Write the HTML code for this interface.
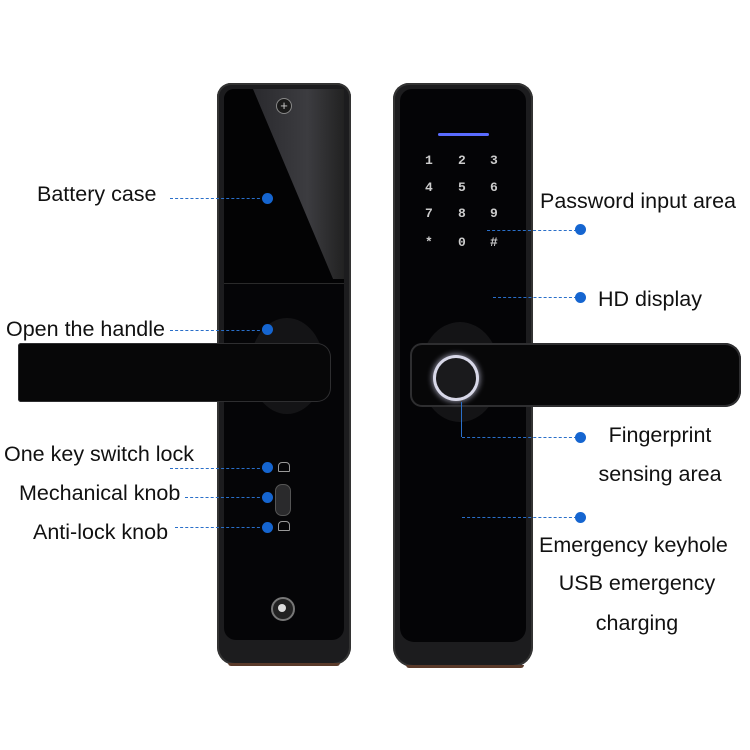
<!DOCTYPE html>
<html><head><style>
body{margin:0;width:750px;height:750px;background:#fff;position:relative;overflow:hidden;font-family:"Liberation Sans",sans-serif;color:#111}
.a{position:absolute}
.t{position:absolute;font-size:21.5px;white-space:nowrap;line-height:1}
.c{position:absolute;font-size:21.5px;white-space:nowrap;line-height:1;width:240px;text-align:center}
.d{position:absolute;width:11px;height:11px;border-radius:50%;background:#1565d0}
.l{position:absolute;height:0;border-top:1px dashed #2a6fc9}
.k{position:absolute;color:#ccc;font-size:13px;font-family:"Liberation Mono",monospace;font-weight:bold}
</style></head><body>
<!-- left lock -->
<div class="a" style="left:217px;top:83px;width:134px;height:582px;background:#1c1c1e;border-radius:14px 14px 18px 18px;box-shadow:inset 0 0 0 2px #333"></div>
<div class="a" style="left:224px;top:89px;width:120px;height:551px;background:#050507;border-radius:10px 10px 12px 12px"></div>
<div class="a" style="left:224px;top:89px;width:120px;height:194px;background:#030304;border-radius:10px 10px 0 0"></div>
<div class="a" style="left:253px;top:89px;width:91px;height:190px;background:linear-gradient(90deg,#2a2a2e,#3c3c40 60%,#222 100%);clip-path:polygon(0 0,100% 0,100% 100%,88% 100%)"></div>
<div class="a" style="left:224px;top:283px;width:120px;height:1px;background:#2a2a2a"></div>
<div class="a" style="left:276px;top:98px;width:14px;height:14px;border-radius:50%;background:#1a1a1a;border:1px solid #888;color:#ccc;font-size:13px;line-height:14px;text-align:center">+</div>
<div class="a" style="left:250px;top:318px;width:74px;height:96px;border-radius:50%;background:#141416"></div>
<div class="a" style="left:18px;top:343px;width:313px;height:59px;background:#070708;border-radius:3px 14px 14px 3px;box-shadow:inset 0 0 0 1px #2e2e30"></div>
<div class="a" style="left:278px;top:462px;width:10px;height:8px;border:1px solid #999;border-radius:4px 4px 1px 1px"></div>
<div class="a" style="left:275px;top:484px;width:14px;height:30px;border-radius:7px;background:#2a2a2c;border:1px solid #555"></div>
<div class="a" style="left:278px;top:521px;width:10px;height:8px;border:1px solid #999;border-radius:4px 4px 1px 1px"></div>
<div class="a" style="left:271px;top:597px;width:20px;height:20px;border-radius:50%;background:#222;border:2px solid #777"></div>
<div class="a" style="left:278px;top:604px;width:8px;height:8px;border-radius:50%;background:#ddd"></div>
<div class="a" style="left:228px;top:663px;width:112px;height:3px;background:#5a3a2a;border-radius:0 0 8px 8px"></div>
<!-- right lock -->
<div class="a" style="left:393px;top:83px;width:140px;height:584px;background:#1c1c1e;border-radius:16px 16px 20px 20px;box-shadow:inset 0 0 0 2px #333"></div>
<div class="a" style="left:400px;top:89px;width:126px;height:553px;background:#040406;border-radius:12px 12px 14px 14px"></div>
<div class="a" style="left:438px;top:133px;width:51px;height:3px;background:#5a6cff;border-radius:2px"></div>
<div class="k" style="left:425px;top:153px">1</div><div class="k" style="left:458px;top:153px">2</div><div class="k" style="left:490px;top:153px">3</div>
<div class="k" style="left:425px;top:180px">4</div><div class="k" style="left:458px;top:180px">5</div><div class="k" style="left:490px;top:180px">6</div>
<div class="k" style="left:425px;top:206px">7</div><div class="k" style="left:458px;top:206px">8</div><div class="k" style="left:490px;top:206px">9</div>
<div class="k" style="left:425px;top:235px">*</div><div class="k" style="left:458px;top:235px">0</div><div class="k" style="left:490px;top:235px">#</div>
<div class="a" style="left:420px;top:322px;width:80px;height:100px;border-radius:50%;background:#141416"></div>
<div class="a" style="left:410px;top:343px;width:331px;height:64px;background:#070708;border-radius:12px 16px 16px 12px;box-shadow:inset 0 0 0 2px #2e2e30"></div>
<div class="a" style="left:436px;top:358px;width:40px;height:40px;border-radius:50%;background:#1a1a1c;box-shadow:0 0 0 3px #d8d8e8,0 0 6px 4px #889"></div>
<div class="a" style="left:406px;top:665px;width:118px;height:3px;background:#5a3a2a;border-radius:0 0 8px 8px"></div>
<!-- labels left -->
<div class="t" style="left:37px;top:184px">Battery case</div>
<div class="l" style="left:170px;top:198px;width:95px"></div><div class="d" style="left:262px;top:193px"></div>
<div class="t" style="left:6px;top:319px">Open the handle</div>
<div class="l" style="left:170px;top:330px;width:95px"></div><div class="d" style="left:262px;top:324px"></div>
<div class="t" style="left:4px;top:444px">One key switch lock</div>
<div class="l" style="left:170px;top:468px;width:95px"></div><div class="d" style="left:262px;top:462px"></div>
<div class="t" style="left:19px;top:483px">Mechanical knob</div>
<div class="l" style="left:185px;top:497px;width:80px"></div><div class="d" style="left:262px;top:492px"></div>
<div class="t" style="left:33px;top:522px">Anti-lock knob</div>
<div class="l" style="left:175px;top:527px;width:90px"></div><div class="d" style="left:262px;top:522px"></div>
<!-- labels right -->
<div class="t" style="left:540px;top:191px">Password input area</div>
<div class="l" style="left:487px;top:230px;width:90px"></div><div class="d" style="left:575px;top:224px"></div>
<div class="t" style="left:598px;top:289px">HD display</div>
<div class="l" style="left:493px;top:297px;width:84px"></div><div class="d" style="left:575px;top:292px"></div>
<div class="a" style="left:461px;top:402px;width:1px;height:35px;background:#2a6fc9"></div>
<div class="l" style="left:462px;top:437px;width:115px"></div><div class="d" style="left:575px;top:432px"></div>
<div class="c" style="left:540px;top:425px">Fingerprint</div>
<div class="c" style="left:540px;top:464px">sensing area</div>
<div class="l" style="left:462px;top:517px;width:115px"></div><div class="d" style="left:575px;top:512px"></div>
<div class="t" style="left:539px;top:535px">Emergency keyhole</div>
<div class="c" style="left:517px;top:573px">USB emergency</div>
<div class="c" style="left:517px;top:613px">charging</div>
</body></html>
